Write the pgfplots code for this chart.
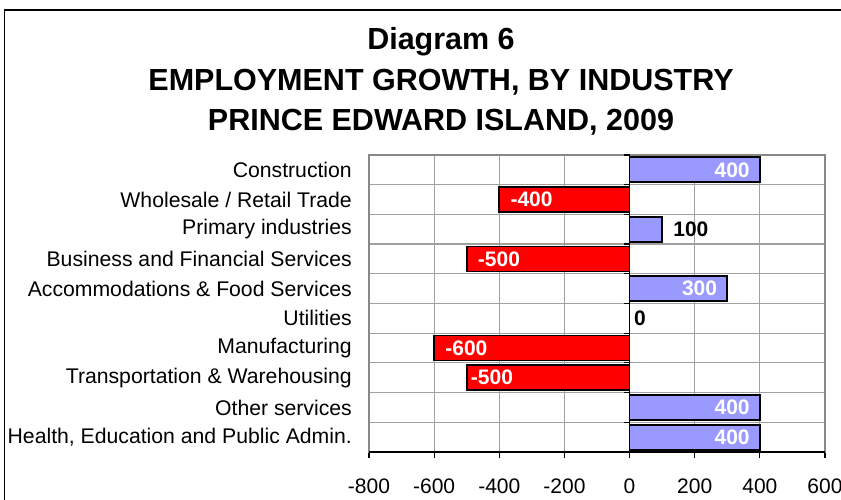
\documentclass[border=0pt]{standalone}
\usepackage{pgfplots}
\pgfplotsset{compat=1.18}
\usepackage{fontspec}
\setmainfont{Liberation Sans}
\definecolor{barblue}{HTML}{9999FF}
\definecolor{barred}{HTML}{FF0000}
\definecolor{gridgray}{HTML}{A0A0A0}
\definecolor{framegray}{HTML}{888888}
\begin{document}
\begin{tikzpicture}
\useasboundingbox (0pt,0pt) rectangle (841pt,500pt);
% outer frame (left and top visible)
\draw[black, line width=1.2pt] (4.5pt,-5pt) -- (4.5pt,490pt) -- (850pt,490pt);
% title
\node[font=\bfseries\fontsize{30.5}{30.5}\selectfont] at (441pt,458pt) {Diagram 6};
\node[font=\bfseries\fontsize{30.5}{30.5}\selectfont] at (441pt,418pt) {EMPLOYMENT GROWTH, BY INDUSTRY};
\node[font=\bfseries\fontsize{30.5}{30.5}\selectfont] at (441pt,378pt) {PRINCE EDWARD ISLAND, 2009};
\begin{axis}[
  at={(369pt,48pt)}, anchor=south west,
  width=456pt, height=297pt, scale only axis,
  xmin=-800, xmax=600, ymin=-0.5, ymax=9.5,
  xtick={-800,-600,-400,-200,0,200,400,600},
  xticklabels={-800,-600,-400,-200,0,200,400,600},
  ytick={0,1,2,3,4,5,6,7,8,9},
  yticklabels={{Health, Education and Public Admin.},{Other services},{Transportation \& Warehousing},{Manufacturing},{Utilities},{Accommodations \& Food Services},{Business and Financial Services},{Primary industries},{Wholesale / Retail Trade},{Construction}},
  minor ytick={0.5,1.5,2.5,3.5,4.5,5.5,6.5,7.5,8.5},
  xmajorgrids, yminorgrids,
  major grid style={gridgray, line width=1.2pt},
  minor grid style={gridgray, line width=1.2pt},
  axis line style={framegray, line width=1.2pt},
  x tick style={black, line width=1.2pt},
  y tick style={draw=none},
  tick align=outside, xtick pos=bottom, ytick pos=left,
  major tick length=6pt, minor tick length=0pt,
  x tick label style={font=\fontsize{21}{21}\selectfont, inner sep=0pt, yshift=-21pt},
  y tick label style={font=\fontsize{21.2}{21.2}\selectfont, inner sep=0pt, anchor=east, xshift=-11pt},
  /pgf/number format/assume math mode=true,
  clip=false,
]
% bars
\addplot[xbar, bar shift=0pt, bar width=0.84, fill=barblue, draw=black, line width=1.8pt,
  nodes near coords, nodes near coords style={anchor=east, xshift=-6pt, text=white, font=\bfseries\fontsize{21}{21}\selectfont}]
  coordinates {(400,9) (300,5) (400,1) (400,0)};
\addplot[xbar, bar shift=0pt, bar width=0.84, fill=barblue, draw=black, line width=1.8pt,
  nodes near coords, nodes near coords style={anchor=west, xshift=7pt, text=black, font=\bfseries\fontsize{21}{21}\selectfont}]
  coordinates {(100,7)};
\addplot[xbar, bar shift=0pt, bar width=0.84, draw=none, fill=none,
  nodes near coords, nodes near coords style={anchor=west, xshift=1pt, text=black, font=\bfseries\fontsize{21}{21}\selectfont}]
  coordinates {(0,4)};
\addplot[xbar, bar shift=0pt, bar width=0.84, fill=barred, draw=black, line width=1.8pt,
  nodes near coords, nodes near coords style={anchor=west, xshift=7pt, text=white, font=\bfseries\fontsize{21}{21}\selectfont}]
  coordinates {(-400,8) (-500,6) (-600,3)};
\addplot[xbar, bar shift=0pt, bar width=0.84, fill=barred, draw=black, line width=1.8pt,
  nodes near coords, nodes near coords style={anchor=west, xshift=0pt, text=white, font=\bfseries\fontsize{21}{21}\selectfont}]
  coordinates {(-500,2)};
% zero axis line and its ticks
\draw[black, line width=1.6pt] (axis cs:0,-0.5) -- (axis cs:0,9.5);
\pgfplotsinvokeforeach{-0.5,0.5,1.5,2.5,3.5,4.5,5.5,6.5,7.5,8.5,9.5}{
  \draw[black, line width=1.2pt] (axis cs:0,#1) -- ++(-6pt,0pt);
}
% bottom axis line in black
\draw[black, line width=1.6pt] (axis cs:-800,-0.5) -- (axis cs:600,-0.5);
\end{axis}
\end{tikzpicture}
\end{document}
